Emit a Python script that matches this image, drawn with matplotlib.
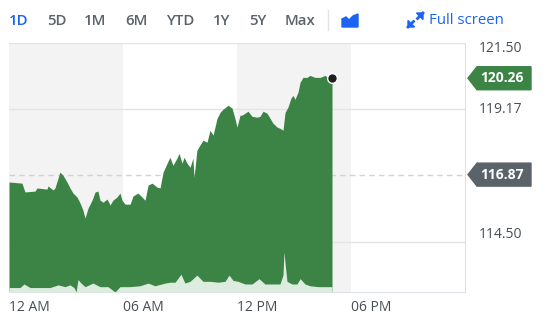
import matplotlib
matplotlib.use('Agg')
import matplotlib.pyplot as plt
import numpy as np
from matplotlib.patches import Polygon
from matplotlib.transforms import IdentityTransform, blended_transform_factory

plt.rcParams['font.family'] = ['Open Sans', 'DejaVu Sans']

# price through the day (hours after midnight, price)
hours = [0.00, 0.68, 0.84, 1.37, 1.47, 2.00, 2.05, 2.32, 2.42, 2.68, 2.84, 3.05,
         3.21, 3.37, 3.58, 3.74, 3.89, 4.00, 4.16, 4.37, 4.53, 4.68, 4.79, 4.95,
         5.16, 5.32, 5.47, 5.68, 5.84, 5.95, 6.11, 6.37, 6.53, 6.79, 7.00, 7.16,
         7.32, 7.53, 7.79, 7.95, 8.11, 8.32, 8.47, 8.63, 8.84, 8.95, 9.11, 9.21,
         9.37, 9.53, 9.68, 9.74, 9.89, 10.05, 10.21, 10.42, 10.58, 10.74, 10.95,
         11.11, 11.26, 11.53, 11.74, 11.89, 12.00, 12.16, 12.26, 12.58, 12.79,
         13.05, 13.21, 13.37, 13.58, 13.74, 13.89, 14.11, 14.26, 14.42, 14.53,
         14.68, 14.84, 14.95, 15.05, 15.21, 15.32, 15.47, 15.68, 15.84, 16.11,
         16.37, 16.63, 16.79, 17.00]
prices = [116.61, 116.57, 116.26, 116.29, 116.40, 116.36, 116.47, 116.33, 116.40,
          116.96, 116.85, 116.61, 116.40, 116.22, 116.08, 115.87, 115.62, 115.34,
          115.69, 115.97, 116.26, 116.29, 115.97, 115.90, 116.01, 115.80, 115.97,
          116.08, 116.22, 115.97, 115.83, 115.83, 116.12, 116.22, 116.08, 115.97,
          116.50, 116.57, 116.43, 116.40, 116.96, 117.27, 117.48, 117.20, 117.45,
          117.62, 117.27, 117.48, 117.27, 117.13, 117.45, 116.78, 117.73, 117.91,
          118.08, 118.01, 118.43, 118.26, 118.85, 119.06, 119.17, 119.31, 119.21,
          118.85, 118.54, 118.96, 118.96, 119.10, 118.92, 118.89, 118.92, 119.10,
          119.03, 118.85, 118.68, 118.54, 118.50, 118.43, 119.06, 119.24, 119.56,
          119.66, 119.52, 119.77, 120.12, 120.29, 120.29, 120.36, 120.29, 120.29,
          120.36, 120.29, 120.26]

# volume (thousands)
vol_hours = [0.00, 0.58, 0.79, 1.11, 1.63, 2.16, 2.58, 2.95, 3.21, 3.42, 3.53, 3.63,
             3.79, 4.00, 4.42, 4.79, 5.21, 5.58, 5.84, 6.37, 6.89, 7.32, 7.68, 8.21,
             8.47, 8.74, 9.05, 9.26, 9.53, 9.89, 10.21, 10.58, 11.00, 11.37, 11.58,
             11.79, 12.05, 12.42, 12.79, 13.16, 13.47, 13.84, 14.26, 14.42, 14.47,
             14.63, 14.89, 15.16, 15.32, 15.58, 15.84, 16.26, 16.63, 17.00]
volumes = [10, 10, 18, 10, 10, 10, 16, 12, 16, 10, 0, 28, 20, 12, 20, 12, 12, 0,
           12, 12, 14, 20, 14, 20, 22, 22, 40, 20, 24, 38, 24, 24, 22, 24, 38, 26,
           24, 18, 18, 30, 18, 18, 18, 38, 90, 24, 18, 18, 30, 18, 14, 12, 12, 12]

prev_close = 116.87
last_price = 120.26
y_ticks = [121.50, 119.17, 114.50]
x_tick_labels = ['12 AM', '06 AM', '12 PM', '06 PM']
ranges = ['1D', '5D', '1M', '6M', 'YTD', '1Y', '5Y', 'Max']

W, H = 553, 323
GREEN = '#3c8446'
GREY_BAND = '#f3f3f3'
BLUE = '#1a63f5'
TEXT = '#464e56'

fig = plt.figure(figsize=(W / 100, H / 100), dpi=100)
ax = fig.add_axes([9 / W, (H - 292) / H, 456 / W, 249 / H])
ax.set_xlim(0, 24)
ax.set_ylim(112.74, 121.50)

# shaded 6h bands
for start in [0, 12]:
    ax.axvspan(start, start + 6, color=GREY_BAND, lw=0, zorder=0)

for v in y_ticks:
    ax.axhline(v, color='#e4e4e4', lw=1, zorder=1)
ax.axhline(prev_close, color='#d2d2d2', lw=1, ls=(0, (4, 3)), zorder=1)

ax.fill_between(hours, prices, 112.74, color=GREEN, lw=0, zorder=2)
ax.plot(hours[-1], prices[-1], 'o', color='#1f1f1f', ms=7, mec='white', mew=1, zorder=5)

# volume on its own scale
ax2 = ax.twinx()
ax2.set_ylim(0, 560)
ax2.fill_between(vol_hours, volumes, 0, color='#dcecdf', lw=0, zorder=3)
ax2.axis('off')

for s in ['left', 'top']:
    ax.spines[s].set_visible(False)
ax.spines['right'].set_color('#dde1e7')
ax.spines['bottom'].set_color('#dde1e7')
ax.set_yticks([])
ax.set_xticks([0, 6, 12, 18])
ax.set_xticklabels(x_tick_labels)
ax.tick_params(axis='x', length=0, pad=6, labelsize=10, labelcolor=TEXT)
for lbl in ax.get_xticklabels():
    lbl.set_horizontalalignment('left')

# right hand price labels
trans = blended_transform_factory(fig.transFigure, ax.transData)
label_pos = [(121.50, 121.29), (119.17, 119.17), (114.50, 114.75)]
for v, ypos in label_pos:
    ax.text(479 / W, ypos, f'{v:.2f}', transform=trans, fontsize=10,
            color=TEXT, va='center', ha='left')

fig.canvas.draw()


def badge(value, color):
    yc = ax.transData.transform((0, value))[1]
    pts = [(468, yc), (477, yc + 11.5), (531, yc + 11.5), (531, yc - 11.5), (477, yc - 11.5)]
    fig.add_artist(Polygon(pts, closed=True, color=color, transform=IdentityTransform(), zorder=6))
    fig.text(502 / W, yc / H, f'{value:.2f}', color='white', fontsize=10, weight='bold',
             ha='center', va='center', zorder=7)


badge(last_price, GREEN)
badge(prev_close, '#5b636a')

# top range buttons
btn_x = [9, 47, 84, 125, 166, 213, 249, 285]
for name, bx in zip(ranges, btn_x):
    fig.text(bx / W, 1 - 21 / H, name, fontsize=10.8, weight='semibold',
             color=BLUE if name == '1D' else '#5b636a', va='center', ha='left')

fig.add_artist(plt.Line2D([328 / W, 328 / W], [1 - 10 / H, 1 - 30 / H], color='#e3e3e3', lw=1))
mountain = [(342, 27), (342, 19), (346, 17), (349, 20), (353, 16), (358, 14), (358, 27)]
fig.add_artist(Polygon([(x, H - y) for x, y in mountain], closed=True, color=BLUE,
                       transform=IdentityTransform()))

# expand icon: two diagonal arrows
for tip, tail, sx, sy in [((423, 13), (417.5, 18.5), -1, 1), ((408, 27), (413.5, 21.5), 1, -1)]:
    fig.add_artist(plt.Line2D([tip[0], tail[0]], [H - tip[1], H - tail[1]], color=BLUE,
                              lw=2, transform=IdentityTransform()))
    head = [tip, (tip[0] + 6.5 * sx, tip[1]), (tip[0], tip[1] + 6.5 * sy)]
    fig.add_artist(Polygon([(x, H - y) for x, y in head], closed=True, color=BLUE,
                           transform=IdentityTransform()))
fig.text(429 / W, 1 - 21 / H, 'Full screen', fontsize=10.8, color=BLUE, va='center', ha='left')

fig.savefig('out.png', dpi=100)
